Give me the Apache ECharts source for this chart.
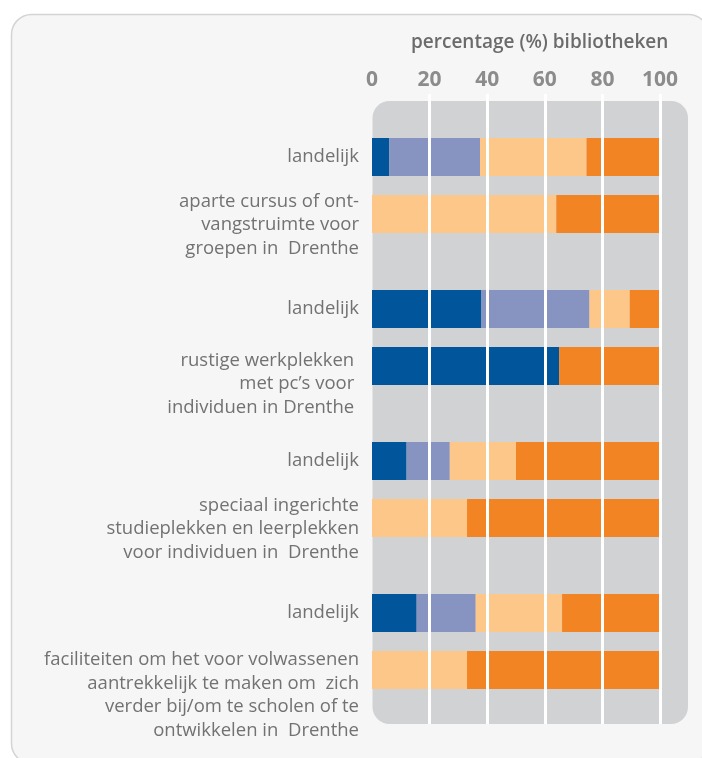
<!DOCTYPE html>
<html>
<head>
<meta charset="utf-8">
<script src="https://cdn.jsdelivr.net/npm/echarts@6/dist/echarts.min.js"></script>
<style>html,body{margin:0;padding:0;background:#fff}#c{width:702px;height:758px}</style>
</head>
<body>
<div id="c"></div>
<script>
// ---- data ----
const titleText = 'percentage (%) bibliotheken';
const categories = [
  'landelijk',
  'aparte cursus of ont-\nvangstruimte voor\ngroepen in  Drenthe',
  'landelijk',
  'rustige werkplekken \nmet pc’s voor \nindividuen in Drenthe ',
  'landelijk',
  'speciaal ingerichte\nstudieplekken en leerplekken\nvoor individuen in  Drenthe',
  'landelijk',
  'faciliteiten om het voor volwassenen\naantrekkelijk te maken om  zich\nverder bij/om te scholen of te\nontwikkelen in  Drenthe'
];
const seriesNames = ['categorie 1', 'categorie 2', 'categorie 3', 'categorie 4'];
const valsDarkBlue   = [6,    0,  38,   65, 12, 0,  15.5, 0];
const valsLightBlue  = [31.5, 0,  37.5, 0,  15, 0,  20.5, 0];
const valsLightOrange= [37,   64, 14,   0,  23, 33, 30,   33];
const valsOrange     = [25.5, 36, 10.5, 35, 50, 67, 34,   67];
const xTicks = [0, 20, 40, 60, 80, 100];

// ---- layout helpers (not data) ----
const slotIndex = [0, 3, 8, 11, 16, 19, 24, 27];   // category slot of each bar row
const slotCount = 28;
const labelSpacer = [0, 22, 0, 36, 0, 22, 0, 50];  // top spacer (px) for each row label
const colors = ['#01559b', '#8793c1', '#fdc78a', '#f38424'];

function spread(arr) {
  const out = new Array(slotCount).fill('-');
  arr.forEach((v, i) => { out[slotIndex[i]] = v; });
  return out;
}
const slotToRow = {};
slotIndex.forEach((s, i) => { slotToRow[s] = i; });
const yData = [];
for (let s = 0; s < slotCount; s++) yData.push('slot' + s);

const rich = {};
labelSpacer.forEach(h => { if (h > 0) rich['sp' + h] = { fontSize: 1, lineHeight: h, height: h }; });

function labelFormatter(value, idx) {
  const row = slotToRow[idx];
  if (row === undefined) return '';
  const h = labelSpacer[row];
  const txt = categories[row];
  return h > 0 ? '{sp' + h + '| }\n' + txt : txt;
}

const allVals = [valsDarkBlue, valsLightBlue, valsLightOrange, valsOrange];

const chart = echarts.init(document.getElementById('c'), null, { renderer: 'canvas' });
chart.setOption({
  backgroundColor: '#ffffff',
  animation: false,
  title: {
    text: titleText,
    left: 406, top: 28,
    textStyle: { fontFamily: 'Open Sans', fontWeight: 600, fontSize: 19, color: '#6b6b6b' },
    z: 20
  },
  graphic: [
    { type: 'rect', z: 0, shape: { x: 11.5, y: 14.5, width: 697, height: 749, r: 20 },
      style: { fill: '#f6f6f6', stroke: '#d4d4d4', lineWidth: 1.5 } },
    { type: 'rect', z: 1, shape: { x: 372.5, y: 101, width: 315.5, height: 623, r: 17 },
      style: { fill: '#d1d2d4' } }
  ],
  grid: [
    { left: 372, right: 42, top: 147.5, height: 532 },
    { left: 372, right: 42, top: 94, height: 630 }
  ],
  xAxis: [
    { type: 'value', gridIndex: 0, min: 0, max: 100, show: false },
    { type: 'value', gridIndex: 1, min: 0, max: 100, interval: 20, position: 'top', z: 10,
      axisLine: { show: false }, axisTick: { show: false },
      splitLine: { show: true, showMinLine: false, lineStyle: { color: '#ffffff', width: 3 } },
      axisLabel: { margin: 3, fontFamily: 'Open Sans', fontWeight: 700, fontSize: 21, color: '#8c8c8c',
        formatter: v => xTicks.includes(v) ? String(v) : '' } }
  ],
  yAxis: [
    { type: 'category', gridIndex: 0, inverse: true, data: yData, z: 5,
      axisLine: { show: false }, axisTick: { show: false }, splitLine: { show: false },
      axisLabel: { interval: 0, margin: 13, fontFamily: 'Open Sans', fontSize: 18.5, lineHeight: 23.5,
        color: '#727272', align: 'right', verticalAlign: 'middle',
        formatter: labelFormatter, rich: rich } },
    { type: 'value', gridIndex: 1, show: false, min: 0, max: 1 }
  ],
  series: allVals.map((vals, k) => ({
    name: seriesNames[k],
    type: 'bar',
    stack: 'total',
    xAxisIndex: 0, yAxisIndex: 0,
    barWidth: 38,
    clip: false,
    z: 2,
    itemStyle: { color: colors[k] },
    data: spread(vals)
  }))
});
</script>
</body>
</html>
